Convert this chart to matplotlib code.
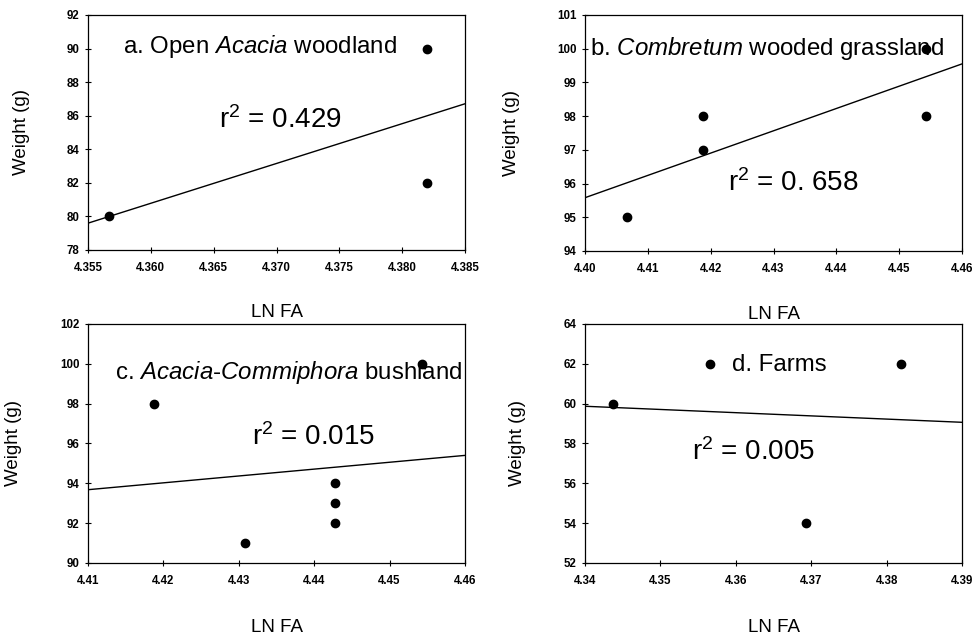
#!/usr/bin/env python3

import numpy as np
import matplotlib
matplotlib.use("Agg")
import matplotlib.pyplot as plt
from matplotlib.ticker import FormatStrFormatter

plt.rcParams["font.family"] = ["Liberation Sans", "DejaVu Sans"]
plt.rcParams["mathtext.fontset"] = "custom"
plt.rcParams["mathtext.rm"] = "Liberation Sans"
plt.rcParams["mathtext.it"] = "Liberation Sans:italic"

# panel a: Open Acacia woodland
a_x = [4.3567, 4.3820, 4.3820]
a_y = [80, 90, 82]
# panel b: Combretum wooded grassland
b_x = [4.4066, 4.4187, 4.4187, 4.4543, 4.4543]
b_y = [95, 98, 97, 98, 100]
# panel c: Acacia-Commiphora bushland
c_x = [4.4188, 4.4308, 4.4427, 4.4427, 4.4427, 4.4543]
c_y = [98, 91, 94, 93, 92, 100]
# panel d: Farms
d_x = [4.3437, 4.3566, 4.3693, 4.3819]
d_y = [60, 62, 54, 62]

titles = [
    r"a. Open $\it{Acacia}$ woodland",
    r"b. $\it{Combretum}$ wooded grassland",
    r"c. $\it{Acacia}$-$\it{Commiphora}$ bushland",
    r"d. Farms",
]
r2_labels = ["0.429", "0. 658", "0.015", "0.005"]

xlims = [(4.355, 4.385), (4.40, 4.46), (4.41, 4.46), (4.34, 4.39)]
xsteps = [0.005, 0.01, 0.01, 0.01]
xfmts = ["%.3f", "%.2f", "%.2f", "%.2f"]
ylims = [(78, 92), (94, 101), (90, 102), (52, 64)]
ysteps = [2, 1, 2, 2]

# layout (figure fractions) and text spots (axes fractions)
rects = [
    [0.0899, 0.6082, 0.3851, 0.3683],
    [0.5976, 0.6066, 0.3851, 0.3699],
    [0.0899, 0.1176, 0.3851, 0.3746],
    [0.5976, 0.1176, 0.3851, 0.3746],
]
title_pos = [(0.093, 0.864), (0.013, 0.86), (0.072, 0.795), (0.39, 0.828)]
r2_pos = [(0.509, 0.553), (0.553, 0.288), (0.597, 0.527), (0.446, 0.464)]
ylab_x = [-0.154, -0.172, -0.175, -0.157]


def draw_panel(fig, i, xs, ys):
    ax = fig.add_axes(rects[i])
    ax.scatter(xs, ys, s=36, color="black", zorder=3)

    slope, icpt = np.polyfit(xs, ys, 1)
    lx = np.array(xlims[i])
    ax.plot(lx, slope * lx + icpt, color="black", lw=1.0)

    ax.set_xlim(*xlims[i])
    ax.set_ylim(*ylims[i])
    ax.set_xticks(np.arange(xlims[i][0], xlims[i][1] + xsteps[i] / 2, xsteps[i]))
    ax.set_yticks(np.arange(ylims[i][0], ylims[i][1] + 0.01, ysteps[i]))
    ax.xaxis.set_major_formatter(FormatStrFormatter(xfmts[i]))
    ax.tick_params(axis="x", direction="inout", length=4, width=0.8,
                   labelsize=8.3, pad=7)
    ax.tick_params(axis="y", direction="inout", length=4, width=0.8,
                   labelsize=8.3, pad=4)
    for lab in ax.get_xticklabels() + ax.get_yticklabels():
        lab.set_fontweight("bold")
    for sp in ax.spines.values():
        sp.set_linewidth(0.9)

    ax.set_xlabel("LN FA", fontsize=13.5, va="center")
    ax.xaxis.set_label_coords(0.5, -0.268)
    ax.set_ylabel("Weight (g)", fontsize=13.5)
    ax.yaxis.set_label_coords(ylab_x[i], 0.5)

    tx, ty = title_pos[i]
    ax.text(tx, ty, titles[i], transform=ax.transAxes, fontsize=17.3,
            ha="left", va="center")
    rx, ry = r2_pos[i]
    ax.text(rx, ry, r"r$^2$ = " + r2_labels[i], transform=ax.transAxes,
            fontsize=20, ha="center", va="center")
    return ax


def main():
    fig = plt.figure(figsize=(9.79, 6.38), dpi=100)
    data = [(a_x, a_y), (b_x, b_y), (c_x, c_y), (d_x, d_y)]
    for i, (xs, ys) in enumerate(data):
        draw_panel(fig, i, xs, ys)
    fig.savefig("out.png", dpi=100, facecolor="white")


if __name__ == "__main__":
    main()
